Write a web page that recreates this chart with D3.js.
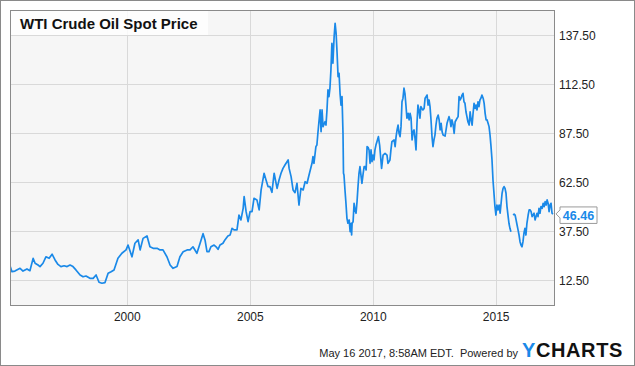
<!DOCTYPE html>
<html><head><meta charset="utf-8">
<script src="https://cdn.jsdelivr.net/npm/d3@7"></script>
<style>body{margin:0;background:#fff} svg{display:block;font-family:"Liberation Sans",Arial,sans-serif}</style>
</head><body><svg id="c" width="635" height="366"></svg>
<script>
const title = "WTI Crude Oil Spot Price";
const yTickValues = [12.5, 37.5, 62.5, 87.5, 112.5, 137.5];
const xTickYears = [2000, 2005, 2010, 2015];
const startYear = 1995.25, endYear = 2017.37;
const lastValue = 46.46;
const footerText = "May 16 2017, 8:58AM EDT.  Powered by";
const logoParts = ["Y", "CHARTS"];

// decimal years (weekly-ish samples)
const dates = [
1995.25,1995.33,1995.45,1995.66,1995.78,1995.94,1996.06,1996.19,1996.27,1996.39,1996.47,1996.59,1996.71,1996.84,1996.96,
1997.08,1997.20,1997.32,1997.45,1997.57,1997.69,1997.81,1997.93,1998.10,1998.22,1998.34,1998.50,1998.63,1998.75,1998.87,1998.99,
1999.11,1999.24,1999.36,1999.48,1999.64,1999.80,1999.97,2000.05,2000.21,2000.33,2000.46,2000.54,2000.66,2000.82,2000.94,
2001.07,2001.23,2001.35,2001.47,2001.63,2001.76,2001.88,2002.04,2002.16,2002.29,2002.45,2002.57,2002.69,2002.85,2002.98,
2003.10,2003.18,2003.26,2003.34,2003.42,2003.55,2003.63,2003.71,2003.79,2003.91,2003.99,2004.11,2004.20,2004.28,2004.36,2004.48,
2004.56,2004.64,2004.73,2004.77,2004.85,2004.93,2005.01,2005.09,2005.17,2005.29,2005.38,2005.46,2005.58,2005.66,2005.74,2005.82,
2005.90,2005.99,2006.11,2006.19,2006.27,2006.35,2006.43,2006.56,2006.60,2006.68,2006.76,2006.84,2006.92,2007.00,2007.08,2007.17,
2007.25,2007.33,2007.41,2007.53,2007.57,2007.61,2007.69,2007.73,2007.77,2007.82,2007.86,2007.90,2007.94,2007.98,2008.06,2008.10,
2008.14,2008.18,2008.22,2008.26,2008.30,2008.34,2008.38,2008.43,2008.47,2008.51,2008.55,2008.59,2008.63,2008.67,2008.71,2008.75,
2008.79,2008.81,2008.83,2008.87,2008.91,2008.95,2008.99,2009.04,2009.08,2009.12,2009.14,2009.16,2009.20,2009.24,2009.28,2009.32,
2009.36,2009.40,2009.44,2009.48,2009.52,2009.56,2009.61,2009.65,2009.69,2009.73,2009.77,2009.81,2009.85,2009.89,2009.93,2009.97,
2010.01,2010.05,2010.09,2010.13,2010.17,2010.23,2010.28,2010.36,2010.42,2010.50,2010.58,2010.62,2010.70,2010.74,2010.78,2010.87,
2010.91,2010.95,2010.99,2011.03,2011.07,2011.11,2011.15,2011.19,2011.23,2011.27,2011.31,2011.35,2011.39,2011.44,2011.48,2011.52,
2011.56,2011.60,2011.64,2011.68,2011.72,2011.76,2011.80,2011.84,2011.88,2011.92,2011.96,2012.00,2012.04,2012.09,2012.13,2012.17,
2012.21,2012.25,2012.29,2012.33,2012.37,2012.41,2012.45,2012.49,2012.53,2012.57,2012.61,2012.66,2012.70,2012.74,2012.78,2012.82,
2012.86,2012.94,2012.98,2013.02,2013.06,2013.10,2013.14,2013.18,2013.22,2013.27,2013.31,2013.35,2013.39,2013.43,2013.47,2013.51,
2013.55,2013.59,2013.63,2013.67,2013.71,2013.75,2013.79,2013.83,2013.87,2013.92,2013.96,2014.00,2014.04,2014.08,2014.12,2014.16,
2014.20,2014.24,2014.28,2014.32,2014.36,2014.40,2014.44,2014.49,2014.53,2014.57,2014.61,2014.65,2014.69,2014.73,2014.77,2014.81,
2014.85,2014.89,2014.93,2014.97,2015.01,2015.05,2015.09,2015.14,2015.18,2015.22,2015.26,2015.30,2015.34,2015.38,2015.42,2015.46,
2015.50,2015.54,2015.58,2015.62,2015.66,2015.71,2015.75,2015.79,2015.83,2015.87,2015.91,2015.95,2015.99,2016.03,2016.07,2016.11,
2016.15,2016.19,2016.23,2016.27,2016.32,2016.36,2016.40,2016.44,2016.48,2016.56,2016.60,2016.68,2016.72,2016.76,2016.80,2016.84,
2016.89,2016.93,2016.97,2017.01,2017.05,2017.09,2017.13,2017.17,2017.21,2017.25,2017.29,2017.33,2017.37
];
// price in USD per barrel; null marks a gap in the source series
const prices = [
20.0,17.0,17.3,18.7,17.3,18.4,17.5,23.8,21.3,20.4,19.6,21.3,24.6,23.8,25.9,
23.0,20.7,19.6,20.0,19.6,20.4,19.6,17.9,15.3,14.4,14.8,13.6,13.6,15.3,11.6,11.1,
11.4,16.2,17.0,17.9,23.8,26.4,28.1,30.6,24.6,31.5,33.2,28.1,34.0,35.2,29.7,
28.9,28.9,28.1,28.1,24.6,20.4,18.7,19.6,24.6,27.2,28.1,28.1,29.7,26.4,31.5,
36.4,33.2,27.2,27.2,29.7,30.6,29.7,28.4,30.6,31.5,33.2,35.2,35.7,39.1,38.3,38.3,
45.9,43.4,49.3,55.3,47.6,42.5,47.6,47.6,54.4,53.6,48.5,58.7,67.2,63.8,60.4,60.4,
57.5,67.2,59.5,63.8,67.2,69.7,71.4,74.0,69.7,65.5,58.7,57.3,62.1,51.0,59.5,58.7,
62.9,62.1,66.3,72.3,75.7,72.3,80.8,81.6,87.6,94.4,99.5,88.4,99.5,91.0,93.5,91.8,
99.5,109.7,106.3,110.6,119.9,133.5,123.3,136.9,143.7,138.6,128.4,116.5,118.2,108.0,102.0,106.3,
87.6,67.2,66.3,58.7,51.9,44.2,41.7,43.4,37.4,41.7,35.7,41.7,42.5,51.9,48.5,46.8,
52.7,60.4,67.2,70.6,66.3,62.1,67.2,70.6,70.6,68.9,80.8,80.4,79.1,72.3,79.1,73.1,
76.5,74.0,79.1,81.6,83.3,85.9,81.6,69.7,76.5,77.4,76.5,72.3,74.0,79.1,83.3,84.2,
80.8,85.9,89.3,91.8,87.6,85.9,91.0,103.7,105.5,110.6,108.0,102.0,95.3,97.8,94.4,97.8,
95.3,84.2,88.4,89.3,85.0,79.1,92.7,102.0,99.5,95.3,101.2,100.3,99.5,100.3,105.5,106.3,
107.1,102.0,104.6,101.2,94.4,85.9,80.8,84.2,86.7,91.8,95.3,96.9,94.4,89.3,92.7,88.4,
86.7,86.2,89.3,92.7,94.4,96.1,94.4,91.0,94.4,91.8,87.6,93.5,94.4,95.3,96.1,106.3,
104.6,105.5,107.1,108.0,103.7,102.9,98.6,96.1,93.5,91.8,98.6,94.4,91.8,97.8,102.9,100.3,
102.0,99.5,103.7,101.2,104.6,105.5,107.1,105.5,102.9,97.8,94.4,94.4,92.7,91.0,86.7,80.8,
74.0,63.8,57.0,50.2,45.9,51.0,48.5,51.0,46.8,51.9,57.0,59.5,60.4,59.5,57.0,50.2,
45.9,41.7,39.1,37.4,null,45.9,46.4,45.9,43.4,40.8,38.3,35.7,32.3,30.6,29.7,32.3,
36.6,39.1,35.7,41.7,45.9,48.5,48.5,47.6,45.1,46.8,43.4,46.8,45.1,49.3,46.8,
50.2,49.3,51.9,50.2,52.7,51.0,53.6,51.9,47.6,51.0,51.9,46.8,46.46
];

function toDate(y) {
  const yr = Math.floor(y);
  const s = Date.UTC(yr, 0, 1), e = Date.UTC(yr + 1, 0, 1);
  return new Date(s + (y - yr) * (e - s));
}

const data = dates.map((d, i) => ({ date: toDate(d), value: prices[i] }));

const svg = d3.select("#c");
const L = 10, R = 554, T = 10, B = 305;
const x = d3.scaleUtc().domain([toDate(startYear), toDate(endYear)]).range([L, R]);
const y = d3.scaleLinear().domain([0, 150.5]).range([B, T]);

// outer frame
svg.append("rect").attr("x", 0.5).attr("y", 0.5).attr("width", 634).attr("height", 365)
  .attr("fill", "#fff").attr("stroke", "#8a8a8a");

// plot background
svg.append("rect").attr("x", L).attr("y", T).attr("width", R - L).attr("height", B - T)
  .attr("fill", "#f6f6f6");

// gridlines
svg.append("g").selectAll("line").data(yTickValues).join("line")
  .attr("x1", L).attr("x2", R)
  .attr("y1", d => Math.round(y(d)) + 0.5).attr("y2", d => Math.round(y(d)) + 0.5)
  .attr("stroke", "#d9d9d9").attr("stroke-width", 1);
svg.append("g").selectAll("line").data(xTickYears).join("line")
  .attr("x1", d => Math.round(x(toDate(d))) + 0.5).attr("x2", d => Math.round(x(toDate(d))) + 0.5)
  .attr("y1", T).attr("y2", B)
  .attr("stroke", "#d9d9d9").attr("stroke-width", 1);

// title box
svg.append("rect").attr("x", L + 1).attr("y", T + 1).attr("width", 197).attr("height", 24)
  .attr("fill", "#fff").attr("fill-opacity", 0.8);
svg.append("text").attr("x", 20).attr("y", 28.5).text(title)
  .attr("font-size", 15).attr("font-weight", "bold").attr("fill", "#111");

// line
svg.append("clipPath").attr("id", "clip").append("rect")
  .attr("x", L).attr("y", T).attr("width", R - L).attr("height", B - T);
const line = d3.line().defined(d => d.value != null)
  .x(d => x(d.date)).y(d => y(d.value));
svg.append("path").datum(data).attr("d", line).attr("clip-path", "url(#clip)")
  .attr("fill", "none").attr("stroke", "#1a89e8").attr("stroke-width", 1.7)
  .attr("stroke-linejoin", "round");

// plot border
svg.append("rect").attr("x", L + 0.5).attr("y", T + 0.5).attr("width", R - L).attr("height", B - T)
  .attr("fill", "none").attr("stroke", "#8a8a8a");

// right axis labels
svg.append("g").selectAll("text").data(yTickValues).join("text")
  .attr("x", R + 5).attr("y", d => y(d) + 4.5)
  .attr("font-size", 12).attr("fill", "#222")
  .text(d => d3.format(".2f")(d));

// bottom axis labels
svg.append("g").selectAll("text").data(xTickYears).join("text")
  .attr("x", d => x(toDate(d)) + 0.5).attr("y", 321)
  .attr("text-anchor", "middle").attr("font-size", 12).attr("fill", "#222")
  .text(d => d);

// last value flag
const ly = y(lastValue);
svg.append("path")
  .attr("d", `M${R + 2},${ly} L${R + 6},${ly - 4} V${ly - 7} H${R + 43} V${ly + 9.5} H${R + 6} V${ly + 4} Z`)
  .attr("fill", "#fff").attr("stroke", "#9a9a9a");
svg.append("text").attr("x", R + 24.5).attr("y", ly + 6).attr("text-anchor", "middle")
  .attr("font-size", 12.5).attr("font-weight", "bold").attr("fill", "#1a89e8")
  .text(d3.format(".2f")(lastValue));

// footer
svg.append("text").attr("x", 518).attr("y", 356.5).attr("text-anchor", "end")
  .attr("font-size", 11).attr("fill", "#222").attr("xml:space", "preserve").text(footerText);
const logo = svg.append("text").attr("x", 522).attr("y", 356.5)
  .attr("font-size", 20).attr("font-weight", "bold").attr("letter-spacing", 0.6);
logo.append("tspan").attr("fill", "#1a89e8").text(logoParts[0]);
logo.append("tspan").attr("fill", "#111").text(logoParts[1]);
</script>
</body></html>
